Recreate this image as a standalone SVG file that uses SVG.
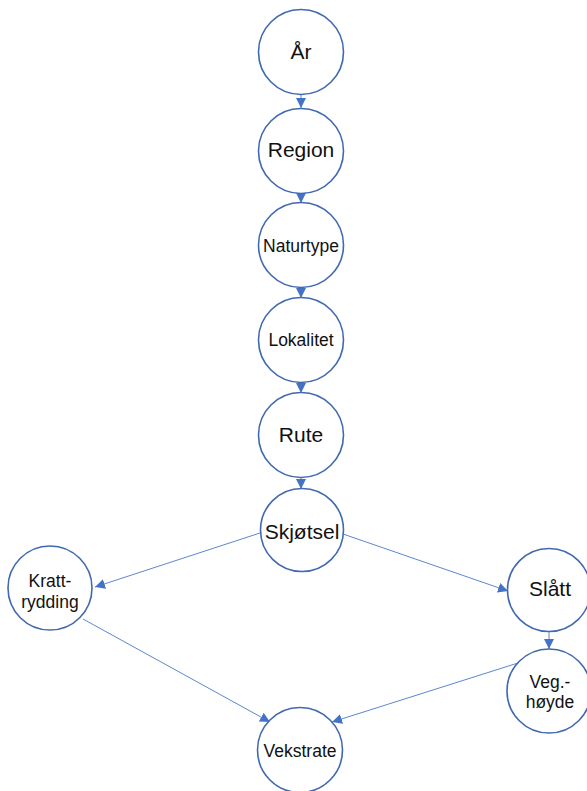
<svg xmlns="http://www.w3.org/2000/svg" width="587" height="791" viewBox="0 0 587 791">
<style>
.n circle{fill:#fff;stroke:#4169B0;stroke-width:1.6}
.n text{font-family:"Liberation Sans",Arial,sans-serif;fill:#111;text-anchor:middle}
.big{font-size:21px}
.mid{font-size:17.5px}
.sm{font-size:17.5px}
.c line{stroke:#4A78CC;stroke-width:0.9}
</style>
<defs>
<marker id="ah" viewBox="0 0 10 10" refX="10" refY="5" markerWidth="10" markerHeight="10" markerUnits="userSpaceOnUse" orient="auto">
<path d="M0,0L10,5L0,10z" fill="#4472C4"/>
</marker>
</defs>
<g class="c">
<line x1="301" y1="95" x2="301" y2="108" marker-end="url(#ah)"/>
<line x1="301" y1="194" x2="301" y2="203" marker-end="url(#ah)"/>
<line x1="301" y1="288" x2="301" y2="298" marker-end="url(#ah)"/>
<line x1="301" y1="383" x2="301" y2="393" marker-end="url(#ah)"/>
<line x1="301" y1="478" x2="301" y2="489" marker-end="url(#ah)"/>
<line x1="260" y1="533" x2="95" y2="587" marker-end="url(#ah)"/>
<line x1="343" y1="534" x2="508" y2="591" marker-end="url(#ah)"/>
<line x1="549" y1="632" x2="549" y2="649" marker-end="url(#ah)"/>
<line x1="83" y1="619" x2="270" y2="722" marker-end="url(#ah)"/>
<line x1="518" y1="663" x2="332" y2="722" marker-end="url(#ah)"/>
</g>
<g id="ar" class="n"><circle cx="301" cy="52" r="42.5"/><text class="big" x="301" y="59">År</text></g>
<g id="region" class="n"><circle cx="301" cy="151" r="42.5"/><text class="big" x="301" y="157">Region</text></g>
<g id="naturtype" class="n"><circle cx="301" cy="245" r="42.5"/><text class="sm" x="301" y="252">Naturtype</text></g>
<g id="lokalitet" class="n"><circle cx="301" cy="340" r="42.5"/><text class="sm" x="301" y="346">Lokalitet</text></g>
<g id="rute" class="n"><circle cx="301" cy="435" r="42.5"/><text class="big" x="301" y="442">Rute</text></g>
<g id="skjotsel" class="n"><circle cx="302" cy="530" r="41.5"/><text class="big" x="302" y="539">Skjøtsel</text></g>
<g id="krattrydding" class="n"><circle cx="50" cy="588" r="42"/><text class="mid" x="50" y="587">Kratt-</text><text class="mid" x="50" y="608">rydding</text></g>
<g id="slatt" class="n"><circle cx="549" cy="590" r="41.5"/><text class="big" x="550" y="596">Slått</text></g>
<g id="veghoyde" class="n"><circle cx="549" cy="691" r="42"/><text class="mid" x="550" y="688">Veg.-</text><text class="mid" x="550" y="708">høyde</text></g>
<g id="vekstrate" class="n"><circle cx="300" cy="750" r="42.5"/><text class="sm" x="300" y="757">Vekstrate</text></g>
</svg>
